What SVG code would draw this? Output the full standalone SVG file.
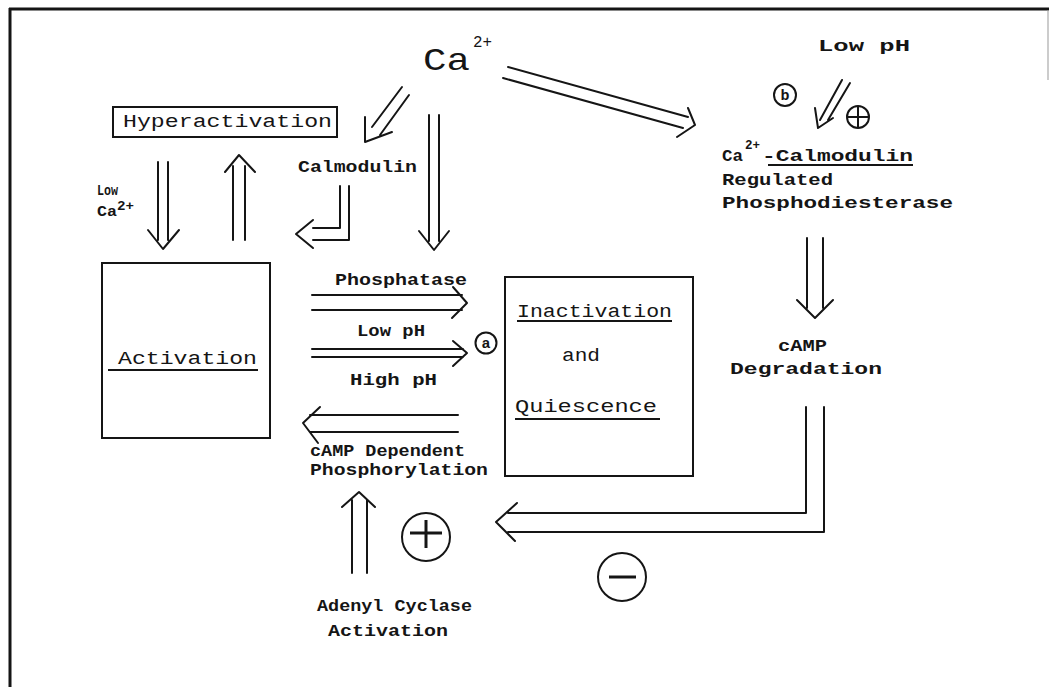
<svg xmlns="http://www.w3.org/2000/svg" width="1049" height="687" viewBox="0 0 1049 687">
<style>
  .t { font-family: "Liberation Mono", "DejaVu Sans Mono", monospace; fill: #151515; }
  .s { font-size: 16px; font-weight: bold; }
  .m { font-size: 19px; }
  .ln { fill: none; stroke: #151515; stroke-width: 2; stroke-linecap: round; stroke-linejoin: round; }
  .box { fill: none; stroke: #151515; stroke-width: 2; }
  .ul { stroke: #151515; stroke-width: 2; }
  .circ { fill: none; stroke: #151515; stroke-width: 2; }
  .sign { stroke: #151515; stroke-width: 3; stroke-linecap: butt; }
</style>
<rect width="1049" height="687" fill="#ffffff"/>
<g id="frame">
  <line x1="9" y1="9" x2="1049" y2="9" stroke="#151515" stroke-width="3"/>
  <line x1="10" y1="8" x2="10" y2="687" stroke="#151515" stroke-width="3"/>
  <line x1="1048" y1="10" x2="1048" y2="80" stroke="#999" stroke-width="1"/>
</g>

<g id="connectors">
  <!-- Ca2+ to Calmodulin (diagonal) -->
  <path class="ln" d="M402,87 L372,127 M409,95 L380,135 M365,117 L365,142 L392,132"/>
  <!-- Ca2+ straight down -->
  <path class="ln" d="M429,115 L429,241 M439,115 L439,241 M419,231 L434,250 L449,231"/>
  <!-- Ca2+ to PDE -->
  <path class="ln" d="M508,67 L688,117 M503,78 L683,128 M688,108 L695,125 L677,137"/>
  <!-- Low pH to PDE -->
  <path class="ln" d="M842,80 L820,120 M850,83 L828,120 M815,108 L818,128 L833,118"/>
  <!-- Hyperactivation down to Activation -->
  <path class="ln" d="M158,162 L158,240 M168,162 L168,240 M148,230 L163,249 L179,230"/>
  <!-- Activation up to Hyperactivation -->
  <path class="ln" d="M233,240 L233,166 M245,240 L245,166 M225,172 L239,155 L255,172"/>
  <!-- Calmodulin L arrow -->
  <path class="ln" d="M340,186 L340,228 L313,228 M349,186 L349,240 L313,240 M313,220 L296,234 L313,248"/>
  <!-- Phosphatase arrow -->
  <path class="ln" d="M312,295 L462,295 M312,310 L462,310 M453,287 L467,303 L452,318"/>
  <!-- Low pH / High pH arrow -->
  <path class="ln" d="M312,349 L463,349 M312,357 L463,357 M453,341 L467,353 L453,366"/>
  <!-- cAMP dependent phosphorylation arrow (leftwards) -->
  <path class="ln" d="M458,415 L310,415 M458,432 L310,432 M320,407 L303,423 L318,443"/>
  <!-- Adenyl cyclase up arrow -->
  <path class="ln" d="M352,573 L352,500 M367,573 L367,500 M342,507 L359,492 L375,507"/>
  <!-- PDE to cAMP degradation -->
  <path class="ln" d="M807,238 L807,308 M823,238 L823,308 M797,300 L815,318 L833,300"/>
  <!-- cAMP degradation L arrow to the left -->
  <path class="ln" d="M806,407 L806,513 L508,513 M824,407 L824,532 L508,532 M517,503 L496,522 L515,541"/>
</g>

<g id="ca">
  <text class="t" x="423" y="70" font-size="32" textLength="47" lengthAdjust="spacingAndGlyphs">Ca</text>
  <text class="t" x="473" y="47" font-size="16" textLength="19" lengthAdjust="spacingAndGlyphs">2+</text>
</g>

<g id="hyperactivation">
  <rect class="box" x="113" y="107" width="224" height="30"/>
  <text class="t m" x="123" y="127" textLength="209" lengthAdjust="spacingAndGlyphs">Hyperactivation</text>
</g>

<g id="calmodulin">
  <text class="t s" x="298" y="172" textLength="119" lengthAdjust="spacingAndGlyphs">Calmodulin</text>
</g>

<g id="low-ca">
  <text class="t" x="97" y="195" font-size="14" font-weight="bold" textLength="21" lengthAdjust="spacingAndGlyphs">Low</text>
  <text class="t" x="97" y="216" font-size="14" font-weight="bold" textLength="20" lengthAdjust="spacingAndGlyphs">Ca</text>
  <text class="t" x="117" y="210" font-size="12" font-weight="bold" textLength="17" lengthAdjust="spacingAndGlyphs">2+</text>
</g>

<g id="low-ph-top">
  <text class="t s" x="818" y="51" textLength="92" lengthAdjust="spacingAndGlyphs">Low pH</text>
  <circle class="circ" cx="785" cy="95" r="11"/>
  <text class="t" x="785" y="100" font-size="15" font-weight="bold" text-anchor="middle">b</text>
  <circle class="circ" cx="858" cy="117" r="11"/>
  <line class="ul" x1="847" y1="117" x2="869" y2="117"/>
  <line class="ul" x1="858" y1="106" x2="858" y2="128"/>
</g>

<g id="pde">
  <text class="t s" x="722" y="161" textLength="21" lengthAdjust="spacingAndGlyphs">Ca</text>
  <text class="t" x="745" y="149" font-size="12" font-weight="bold" textLength="15" lengthAdjust="spacingAndGlyphs">2+</text>
  <text class="t s" x="762" y="161" textLength="151" lengthAdjust="spacingAndGlyphs">-Calmodulin</text>
  <line class="ul" x1="768" y1="165" x2="913" y2="165"/>
  <text class="t s" x="722" y="185" textLength="111" lengthAdjust="spacingAndGlyphs">Regulated</text>
  <text class="t s" x="722" y="208" textLength="231" lengthAdjust="spacingAndGlyphs">Phosphodiesterase</text>
</g>

<g id="camp-degradation">
  <text class="t s" x="778" y="351" textLength="49" lengthAdjust="spacingAndGlyphs">cAMP</text>
  <text class="t s" x="730" y="374" textLength="152" lengthAdjust="spacingAndGlyphs">Degradation</text>
</g>

<g id="activation">
  <rect class="box" x="102" y="263" width="168" height="175"/>
  <text class="t m" x="118" y="364" textLength="139" lengthAdjust="spacingAndGlyphs">Activation</text>
  <line class="ul" x1="108" y1="370" x2="258" y2="370"/>
</g>

<g id="inactivation">
  <rect class="box" x="505" y="277" width="188" height="199"/>
  <text class="t m" x="517" y="317" textLength="155" lengthAdjust="spacingAndGlyphs">Inactivation</text>
  <line class="ul" x1="517" y1="321" x2="672" y2="321"/>
  <text class="t m" x="562" y="361" textLength="38" lengthAdjust="spacingAndGlyphs">and</text>
  <text class="t m" x="515" y="412" textLength="142" lengthAdjust="spacingAndGlyphs">Quiescence</text>
  <line class="ul" x1="515" y1="419" x2="660" y2="419"/>
</g>

<g id="labels-middle">
  <text class="t s" x="335" y="285" textLength="132" lengthAdjust="spacingAndGlyphs">Phosphatase</text>
  <text class="t s" x="357" y="336" textLength="68" lengthAdjust="spacingAndGlyphs">Low pH</text>
  <text class="t s" x="350" y="385" textLength="87" lengthAdjust="spacingAndGlyphs">High pH</text>
  <circle class="circ" cx="486" cy="343" r="10.5"/>
  <text class="t" x="486" y="348" font-size="15" font-weight="bold" text-anchor="middle">a</text>
  <text class="t s" x="310" y="456" textLength="155" lengthAdjust="spacingAndGlyphs">cAMP Dependent</text>
  <text class="t s" x="310" y="475" textLength="178" lengthAdjust="spacingAndGlyphs">Phosphorylation</text>
</g>

<g id="adenyl-cyclase">
  <text class="t s" x="317" y="611" textLength="155" lengthAdjust="spacingAndGlyphs">Adenyl Cyclase</text>
  <text class="t s" x="328" y="636" textLength="120" lengthAdjust="spacingAndGlyphs">Activation</text>
</g>

<g id="plus-sign">
  <circle class="circ" cx="426" cy="537" r="24"/>
  <line class="sign" x1="410" y1="533" x2="442" y2="533"/>
  <line class="sign" x1="426" y1="520" x2="426" y2="548"/>
</g>

<g id="minus-sign">
  <circle class="circ" cx="622" cy="577" r="24"/>
  <line class="sign" x1="609" y1="577" x2="636" y2="577"/>
</g>
</svg>
